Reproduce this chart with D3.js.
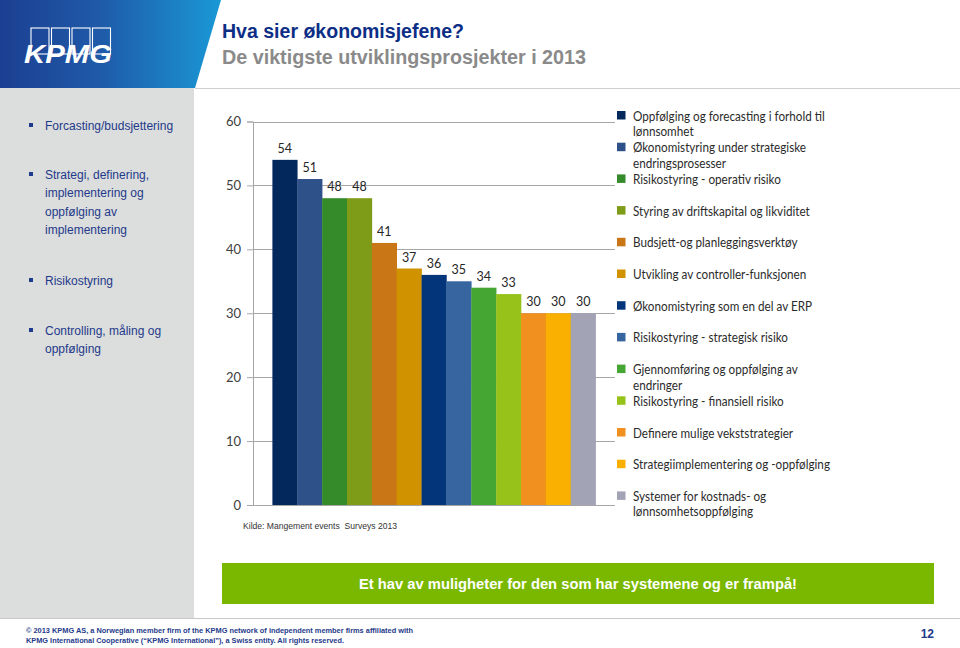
<!DOCTYPE html>
<html><head><meta charset="utf-8">
<script src="https://cdn.jsdelivr.net/npm/d3@7/dist/d3.min.js"></script>
<style>body{margin:0;background:#fff}svg{display:block}</style>
</head><body>
<svg id="c" width="960" height="648"></svg>
<script>
const categories = [
  "Oppfølging og forecasting i forhold til\nlønnsomhet",
  "Økonomistyring under strategiske\nendringsprosesser",
  "Risikostyring - operativ risiko",
  "Styring av driftskapital og likviditet",
  "Budsjett-og planleggingsverktøy",
  "Utvikling av controller-funksjonen",
  "Økonomistyring som en del av ERP",
  "Risikostyring - strategisk risiko",
  "Gjennomføring og oppfølging av\nendringer",
  "Risikostyring - finansiell risiko",
  "Definere mulige vekststrategier",
  "Strategiimplementering og -oppfølging",
  "Systemer for kostnads- og\nlønnsomhetsoppfølging"
];
const values = [54, 51, 48, 48, 41, 37, 36, 35, 34, 33, 30, 30, 30];
const colors = ["#03295c","#2f5189","#358a29","#7e9c18","#c97616","#d19200","#02357a","#3765a0","#46a634","#97c21a","#f1901e","#fab000","#a2a4b6"];
const yTicks = [0, 10, 20, 30, 40, 50, 60];
const sidebarItems = [
  ["Forcasting/budsjettering"],
  ["Strategi, definering,", "implementering og", "oppfølging av", "implementering"],
  ["Risikostyring"],
  ["Controlling, måling og", "oppfølging"]
];
const titleText = "Hva sier økonomisjefene?";
const subtitleText = "De viktigste utviklingsprosjekter i 2013";
const sourceText = "Kilde: Mangement events  Surveys 2013";
const bannerText = "Et hav av muligheter for den som har systemene og er frampå!";
const footerLines = ["© 2013 KPMG AS, a Norwegian member firm of the KPMG network of independent member firms affiliated with",
                     "KPMG International Cooperative (\u201CKPMG International\u201D), a Swiss entity. All rights reserved."];
const pageNumber = "12";

const svg = d3.select("#c");
const defs = svg.append("defs");
const grad = defs.append("linearGradient").attr("id","hg").attr("x1","0").attr("x2","1").attr("y1","0").attr("y2","0");
grad.append("stop").attr("offset","0").attr("stop-color","#1c3f92");
grad.append("stop").attr("offset","0.45").attr("stop-color","#1f5aa8");
grad.append("stop").attr("offset","1").attr("stop-color","#1a98d6");

// sidebar
svg.append("rect").attr("x",0).attr("y",88).attr("width",194).attr("height",530).attr("fill","#dcdddd");
// header
svg.append("path").attr("d","M0,0 L221,0 L195,88 L0,88 Z").attr("fill","url(#hg)");
svg.append("line").attr("x1",195).attr("x2",960).attr("y1",88.5).attr("y2",88.5).attr("stroke","#cfcfcf").attr("stroke-width",1.2);
svg.append("line").attr("x1",0).attr("x2",960).attr("y1",618.5).attr("y2",618.5).attr("stroke","#c8c8c8").attr("stroke-width",1.2);

// logo
const logo = svg.append("g");
[0,1,2,3].forEach(i => {
  logo.append("rect").attr("x",31 + i*20.5).attr("y",28).attr("width",18).attr("height",26)
    .attr("fill","none").attr("stroke","#ffffff").attr("stroke-width",1.1);
});
logo.append("text").attr("x",24).attr("y",63).attr("fill","#fff")
  .attr("font-family","Liberation Sans, Arial").attr("font-weight","bold").attr("font-style","italic")
  .attr("font-size",26).attr("textLength",88).attr("lengthAdjust","spacingAndGlyphs").text("KPMG");

// titles
svg.append("text").attr("x",222).attr("y",38).attr("fill","#0d2e86").attr("font-family","Liberation Sans, Arial")
  .attr("font-weight","bold").attr("font-size",20).attr("textLength",242).attr("lengthAdjust","spacingAndGlyphs").text(titleText);
svg.append("text").attr("x",222).attr("y",64).attr("fill","#8a8a8a").attr("font-family","Liberation Sans, Arial")
  .attr("font-weight","bold").attr("font-size",20).attr("textLength",364).attr("lengthAdjust","spacingAndGlyphs").text(subtitleText);

// sidebar list
const sideY = [130, 179, 285, 335];
sidebarItems.forEach((lines, i) => {
  svg.append("rect").attr("x",29).attr("y",sideY[i]-7).attr("width",4).attr("height",4).attr("fill","#1e3a8a");
  lines.forEach((ln, j) => {
    svg.append("text").attr("x",45).attr("y",sideY[i] + j*18.3).attr("fill","#1e3a8a")
      .attr("font-family","Liberation Sans, Arial").attr("font-size",12).text(ln);
  });
});

// chart
const x = d3.scaleBand().domain(categories).range([253, 615]).paddingInner(0).paddingOuter(0.78);
const y = d3.scaleLinear().domain([0, 60]).range([505, 121.5]);

const gAxis = svg.append("g").attr("transform","translate(253,0)")
  .call(d3.axisLeft(y).tickValues(yTicks).tickSize(6).tickPadding(6).tickFormat(d3.format("d")));
gAxis.select(".domain").attr("stroke","#a6a6a6");
gAxis.selectAll(".tick line").attr("stroke","#a6a6a6");
gAxis.selectAll(".tick text").attr("fill","#404040").attr("font-family","Lato, Open Sans, sans-serif").attr("font-size",13);

svg.append("g").selectAll("line").data(yTicks).join("line")
  .attr("x1",253).attr("x2",615).attr("y1",d=>Math.round(y(d))+0.5).attr("y2",d=>Math.round(y(d))+0.5)
  .attr("stroke","#a6a6a6").attr("stroke-width",1);

svg.append("g").selectAll("rect").data(values).join("rect")
  .attr("x",(d,i)=>x(categories[i])).attr("width",x.bandwidth()+0.3)
  .attr("y",d=>y(d)).attr("height",d=>y(0)-y(d)).attr("fill",(d,i)=>colors[i]);

svg.append("g").selectAll("text").data(values).join("text")
  .attr("x",(d,i)=>x(categories[i]) + x.bandwidth()/2).attr("y",d=>y(d)-7)
  .attr("text-anchor","middle").attr("fill","#262626").attr("font-family","Lato, Open Sans, sans-serif")
  .attr("font-size",12.5).text(d=>d);

// legend
const leg = svg.append("g");
categories.forEach((c, i) => {
  const ly = 116 + i*31.7;
  leg.append("rect").attr("x",617).attr("y",ly-5).attr("width",8.5).attr("height",8.5).attr("fill",colors[i]);
  c.split("\n").forEach((ln, j) => {
    leg.append("text").attr("transform",`translate(633,${ly + 4.5 + j*15.5}) scale(0.9,1)`).attr("fill","#2b2b2b")
      .attr("font-family","Lato, Open Sans, sans-serif").attr("font-size",13).text(ln);
  });
});

// source
svg.append("text").attr("x",243).attr("y",529).attr("fill","#333").attr("font-family","Liberation Sans, Arial")
  .attr("font-size",9).style("white-space","pre").attr("textLength",154).attr("lengthAdjust","spacingAndGlyphs").text(sourceText);

// banner
svg.append("rect").attr("x",222).attr("y",563).attr("width",712).attr("height",41).attr("fill","#7ab800");
svg.append("text").attr("x",359).attr("y",589).attr("fill","#fff")
  .attr("font-family","Liberation Sans, Arial").attr("font-weight","bold").attr("font-size",15.5)
  .attr("textLength",438).attr("lengthAdjust","spacingAndGlyphs").text(bannerText);

// footer
const footW = [387, 318];
footerLines.forEach((t, i) => {
  svg.append("text").attr("x",26).attr("y",633 + i*9.5).attr("fill","#1e3a8a")
    .attr("font-family","Liberation Sans, Arial").attr("font-weight","bold")
    .attr("font-size",8).attr("textLength",footW[i]).attr("lengthAdjust","spacingAndGlyphs").text(t);
});
svg.append("text").attr("x",934).attr("y",638).attr("text-anchor","end").attr("fill","#1e3a8a")
  .attr("font-family","Liberation Sans, Arial").attr("font-weight","bold").attr("font-size",12).text(pageNumber);
</script>
</body></html>
